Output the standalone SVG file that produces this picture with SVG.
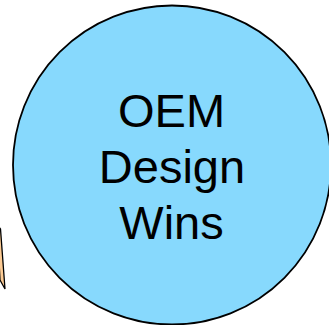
<svg xmlns="http://www.w3.org/2000/svg" width="329" height="325" viewBox="0 0 329 325">
<style>
.lbl{font-family:"Liberation Sans",Arial,sans-serif;font-size:47px;fill:#000;text-anchor:middle}
</style>
<rect width="329" height="325" fill="#fff"/>
<g id="partial-shape">
<path d="M -3 224 L 0.5 229 L 5 289 L 0 280 Z" fill="#FCCB94" stroke="#000" stroke-width="1.3"/>
</g>
<g id="oem-design-wins">
<ellipse cx="172" cy="165" rx="159" ry="159.5" fill="#87D9FD" stroke="#000" stroke-width="1.8"/>
<text class="lbl" x="171.5" y="127">OEM</text>
<text class="lbl" x="172" y="183">Design</text>
<text class="lbl" x="171.5" y="239">Wins</text>
</g>
<g id="connectors"/>
</svg>
